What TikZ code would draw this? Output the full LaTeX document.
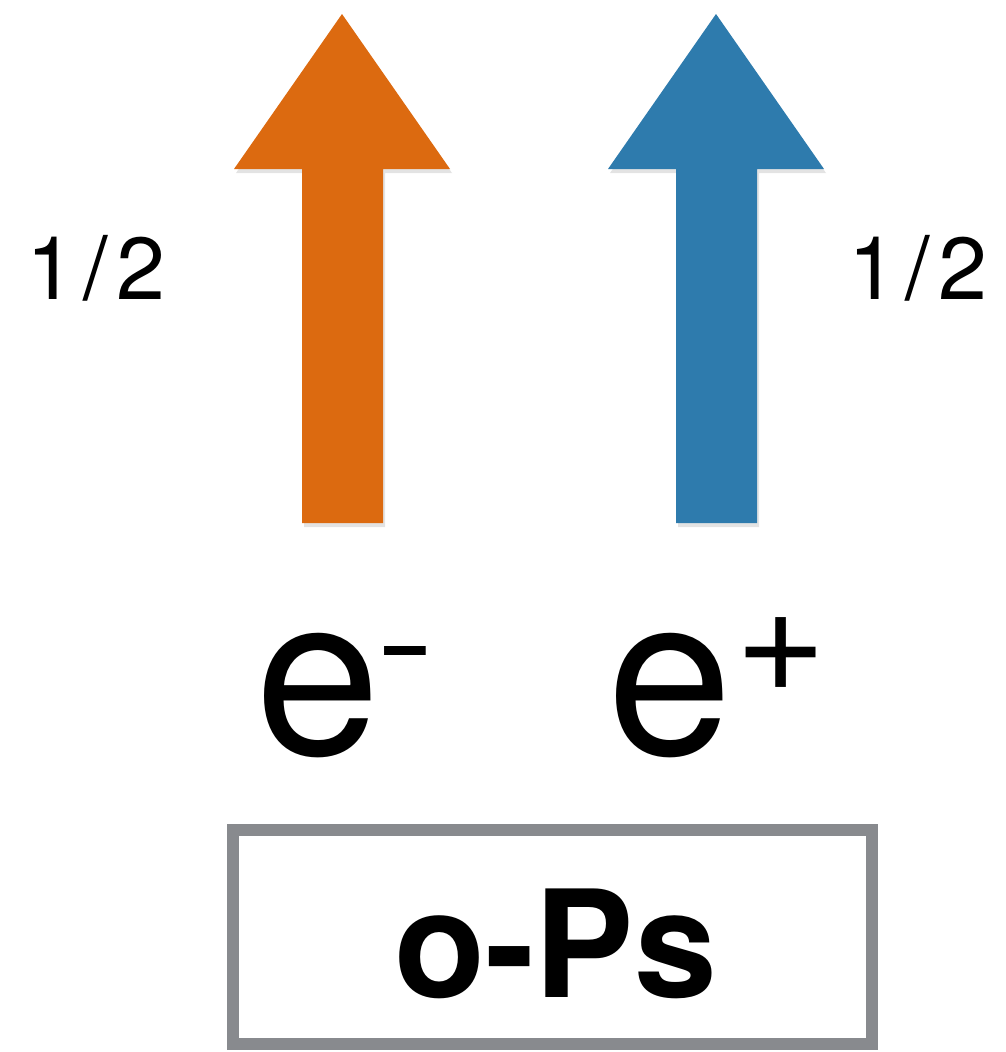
\documentclass[tikz,border=0pt]{standalone}
\usepackage{graphicx}
\usepackage{fontspec}
\setmainfont{TeX Gyre Heros}
\newfontfamily\spinfont[LetterSpace=9]{TeX Gyre Heros}
\usetikzlibrary{shadows}
\definecolor{eorange}{HTML}{DC6A10}
\definecolor{eblue}{HTML}{2E7BAD}
\definecolor{boxgray}{HTML}{888A8E}
\tikzset{
  spinarrow/.style={draw=none, drop shadow={opacity=0.22, shadow xshift=2pt, shadow yshift=-4pt}},
  spinlabel/.style={inner sep=0pt, font=\spinfont\fontsize{88}{88}\selectfont},
  particle/.style={inner sep=0pt, anchor=base west, font=\fontsize{225}{225}\selectfont},
  psbox/.style={draw=boxgray, line width=12pt},
  pstext/.style={inner sep=0pt, anchor=base west, font=\fontsize{149}{149}\selectfont\bfseries}
}
\begin{document}
\begin{tikzpicture}[x=1pt,y=-1pt]
\useasboundingbox (0,0) rectangle (1006,1052);
% orange arrow (electron spin)
\fill[eorange, spinarrow] (342,14) -- (450,169) -- (383,169) -- (383,523) -- (302,523) -- (302,169) -- (234,169) -- cycle;
% blue arrow (positron spin)
\fill[eblue, spinarrow] (716,14) -- (824,169) -- (757,169) -- (757,523) -- (676,523) -- (676,169) -- (608,169) -- cycle;
% spin labels
\node[spinlabel] (sl) at (96,268) {1/2};
\node[spinlabel] (sr) at (918,268) {1/2};
% particles
\node[particle] (em) at (255,754) {e\hspace{-4pt}\raisebox{69pt}{\fontsize{125}{125}\selectfont\scalebox{1.4}[1]{-}}};
\node[particle] (ep) at (607,754) {e\hspace{3pt}\raisebox{63pt}{\fontsize{156}{156}\selectfont +}};
% o-Ps box
\draw[psbox] (233,830) rectangle (872,1044);
\node[pstext] (ops) at (394,997) {o-Ps};
\end{tikzpicture}
\end{document}
